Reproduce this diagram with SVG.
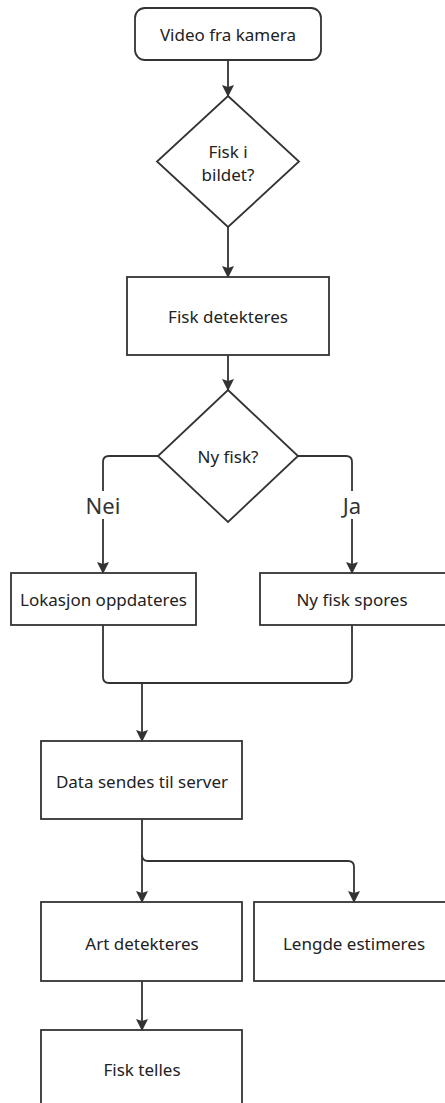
<svg xmlns="http://www.w3.org/2000/svg" width="445" height="1103" viewBox="0 0 445 1103">
<defs>
<marker id="arr" viewBox="0 0 12 12" refX="11" refY="6" markerWidth="12" markerHeight="12" markerUnits="userSpaceOnUse" orient="auto">
<path d="M0,0 L12,6 L0,12 L2,6 z" fill="#333"/>
</marker>
<style>
.n{fill:#fff;stroke:#333;stroke-width:1.8}
.t{font-family:"Noto Sans","Open Sans",sans-serif;font-size:17px;fill:#222;text-anchor:middle;dominant-baseline:central}
.l{font-family:"Noto Sans","Open Sans",sans-serif;font-size:22px;fill:#333;text-anchor:middle;dominant-baseline:central}
.c{fill:none;stroke:#333;stroke-width:1.8;marker-end:url(#arr)}
.c2{fill:none;stroke:#333;stroke-width:1.8}
</style>
</defs>
<rect width="445" height="1103" fill="#fff"/>
<g id="connectors">
<path class="c" d="M228,60 L228,96"/>
<path class="c" d="M228,227 L228,277"/>
<path class="c" d="M228,355 L228,390"/>
<path class="c" d="M158,456 L109,456 Q103,456 103,462 L103,573"/>
<path class="c" d="M298,456 L346,456 Q352,456 352,462 L352,573"/>
<path class="c2" d="M103,625 L103,677 Q103,683 109,683 L346,683 Q352,683 352,677 L352,625"/>
<path class="c" d="M142,683 L142,741"/>
<path class="c" d="M142,819 L142,902"/>
<path class="c" d="M142,855 Q142,861 148,861 L348,861 Q354,861 354,867 L354,902"/>
<path class="c" d="M142,981 L142,1030"/>
<rect x="88" y="491" width="30" height="28" fill="#fff"/>
<text class="l" x="103" y="505">Nei</text>
<rect x="340" y="491" width="24" height="28" fill="#fff"/>
<text class="l" x="352" y="505">Ja</text>
</g>
<g id="video">
<rect class="n" x="135" y="8" width="186" height="52" rx="10"/>
<text class="t" x="228" y="34">Video fra kamera</text>
</g>
<g id="fisk-i-bildet">
<polygon class="n" points="228,96 299,161.5 228,227 157,161.5"/>
<text class="t" x="228" y="151">Fisk i</text>
<text class="t" x="228" y="174">bildet?</text>
</g>
<g id="fisk-detekteres">
<rect class="n" x="127" y="277" width="202" height="78"/>
<text class="t" x="228" y="316">Fisk detekteres</text>
</g>
<g id="ny-fisk">
<polygon class="n" points="228,390 298,456 228,522 158,456"/>
<text class="t" x="228" y="456">Ny fisk?</text>
</g>
<g id="lokasjon">
<rect class="n" x="11" y="573" width="185" height="52"/>
<text class="t" x="103.5" y="599">Lokasjon oppdateres</text>
</g>
<g id="ny-fisk-spores">
<rect class="n" x="260" y="573" width="186" height="52"/>
<text class="t" x="352" y="599">Ny fisk spores</text>
</g>
<g id="data">
<rect class="n" x="41" y="741" width="201" height="78"/>
<text class="t" x="142" y="781">Data sendes til server</text>
</g>
<g id="art">
<rect class="n" x="41" y="902" width="201" height="79"/>
<text class="t" x="142" y="943">Art detekteres</text>
</g>
<g id="lengde">
<rect class="n" x="254" y="902" width="192" height="79"/>
<text class="t" x="354" y="943">Lengde estimeres</text>
</g>
<g id="fisk-telles">
<rect class="n" x="41" y="1030" width="201" height="80"/>
<text class="t" x="142" y="1069">Fisk telles</text>
</g>
</svg>
